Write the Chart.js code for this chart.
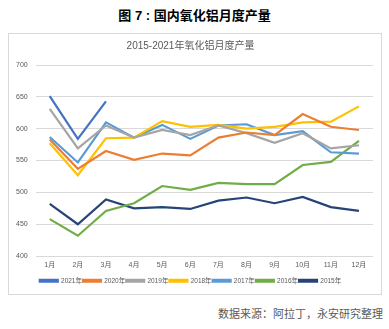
<!DOCTYPE html>
<html>
<head>
<meta charset="utf-8">
<script src="https://cdn.jsdelivr.net/npm/chart.js@4/dist/chart.umd.min.js"></script>
<style>
  body { margin: 0; width: 389px; height: 329px; background: #fff; position: relative; overflow: hidden;
         font-family: "Liberation Sans", "Noto Sans CJK SC", sans-serif; }
  #title { position: absolute; left: 0; top: 5px; width: 389px; text-align: center;
           font-size: 13px; font-weight: bold; color: #000; }
  #box { position: absolute; left: 8px; top: 33px; width: 372px; height: 260px; border: 1px solid #d9d9d9; }
  #source { position: absolute; right: 6px; top: 305px; font-size: 11px; color: #595959; }
</style>
</head>
<body>
<div id="title">图 7 : 国内氧化铝月度产量</div>
<div id="box"><canvas id="myChart" width="372" height="260"></canvas></div>
<div id="source">数据来源：阿拉丁，永安研究整理</div>
<script>
const months = ['1月', '2月', '3月', '4月', '5月', '6月', '7月', '8月', '9月', '10月', '11月', '12月'];
const seriesNames = ['2021年', '2020年', '2019年', '2018年', '2017年', '2016年', '2015年'];
const colors = ['#4472C4', '#ED7D31', '#A5A5A5', '#FFC000', '#5B9BD5', '#70AD47', '#264478'];

const y2021 = [651, 584, 643];
const y2020 = [583, 537, 565, 551, 561, 558, 586, 594, 590, 623, 603, 598];
const y2019 = [631, 569, 605, 586, 598, 590, 605, 593, 578, 593, 569, 574];
const y2018 = [577, 527, 585, 586, 612, 603, 606, 600, 603, 610, 611, 635];
const y2017 = [587, 547, 610, 586, 606, 584, 605, 607, 590, 596, 563, 561];
const y2016 = [458, 432, 471, 483, 510, 504, 515, 513, 513, 543, 548, 581];
const y2015 = [482, 450, 489, 475, 477, 474, 487, 492, 483, 493, 477, 471];

const allSeries = [y2021, y2020, y2019, y2018, y2017, y2016, y2015];

const data = {
    labels: months,
    datasets: allSeries.map((vals, i) => ({
        label: seriesNames[i],
        data: vals,
        borderColor: colors[i],
        backgroundColor: colors[i],
        borderWidth: 2.2,
        pointRadius: 0,
        tension: 0
    }))
};

const fontFam = '"Liberation Sans", "Noto Sans CJK SC", sans-serif';
const tickFont = { family: fontFam, size: 7 };

const config = {
    type: 'line',
    data,
    options: {
        responsive: false,
        animation: false,
        layout: { padding: { left: -1, right: 8, top: 6, bottom: 0 } },
        scales: {
            x: {
                offset: true,
                grid: { display: false },
                border: { display: false },
                ticks: { color: '#595959', font: tickFont, maxRotation: 0, autoSkip: false, padding: -3 },
                // leave a gap between the month labels and the legend
                afterFit: (scale) => { scale.height += 10; }
            },
            y: {
                min: 400,
                max: 700,
                grid: { color: '#d9d9d9', drawTicks: false },
                border: { display: false },
                ticks: { stepSize: 50, color: '#595959', font: tickFont, padding: 8 }
            }
        },
        plugins: {
            title: {
                display: true,
                text: '2015-2021年氧化铝月度产量',
                color: '#595959',
                font: { family: fontFam, size: 10, weight: 'normal' },
                padding: { top: 0, bottom: 13 }
            },
            legend: {
                position: 'bottom',
                labels: {
                    boxWidth: 18,
                    boxHeight: 2,
                    padding: 1,
                    color: '#595959',
                    font: { family: fontFam, size: 6.5 }
                }
            },
            tooltip: { enabled: false }
        }
    }
};

const graphe1 = new Chart(document.getElementById('myChart'), config);
</script>
</body>
</html>
